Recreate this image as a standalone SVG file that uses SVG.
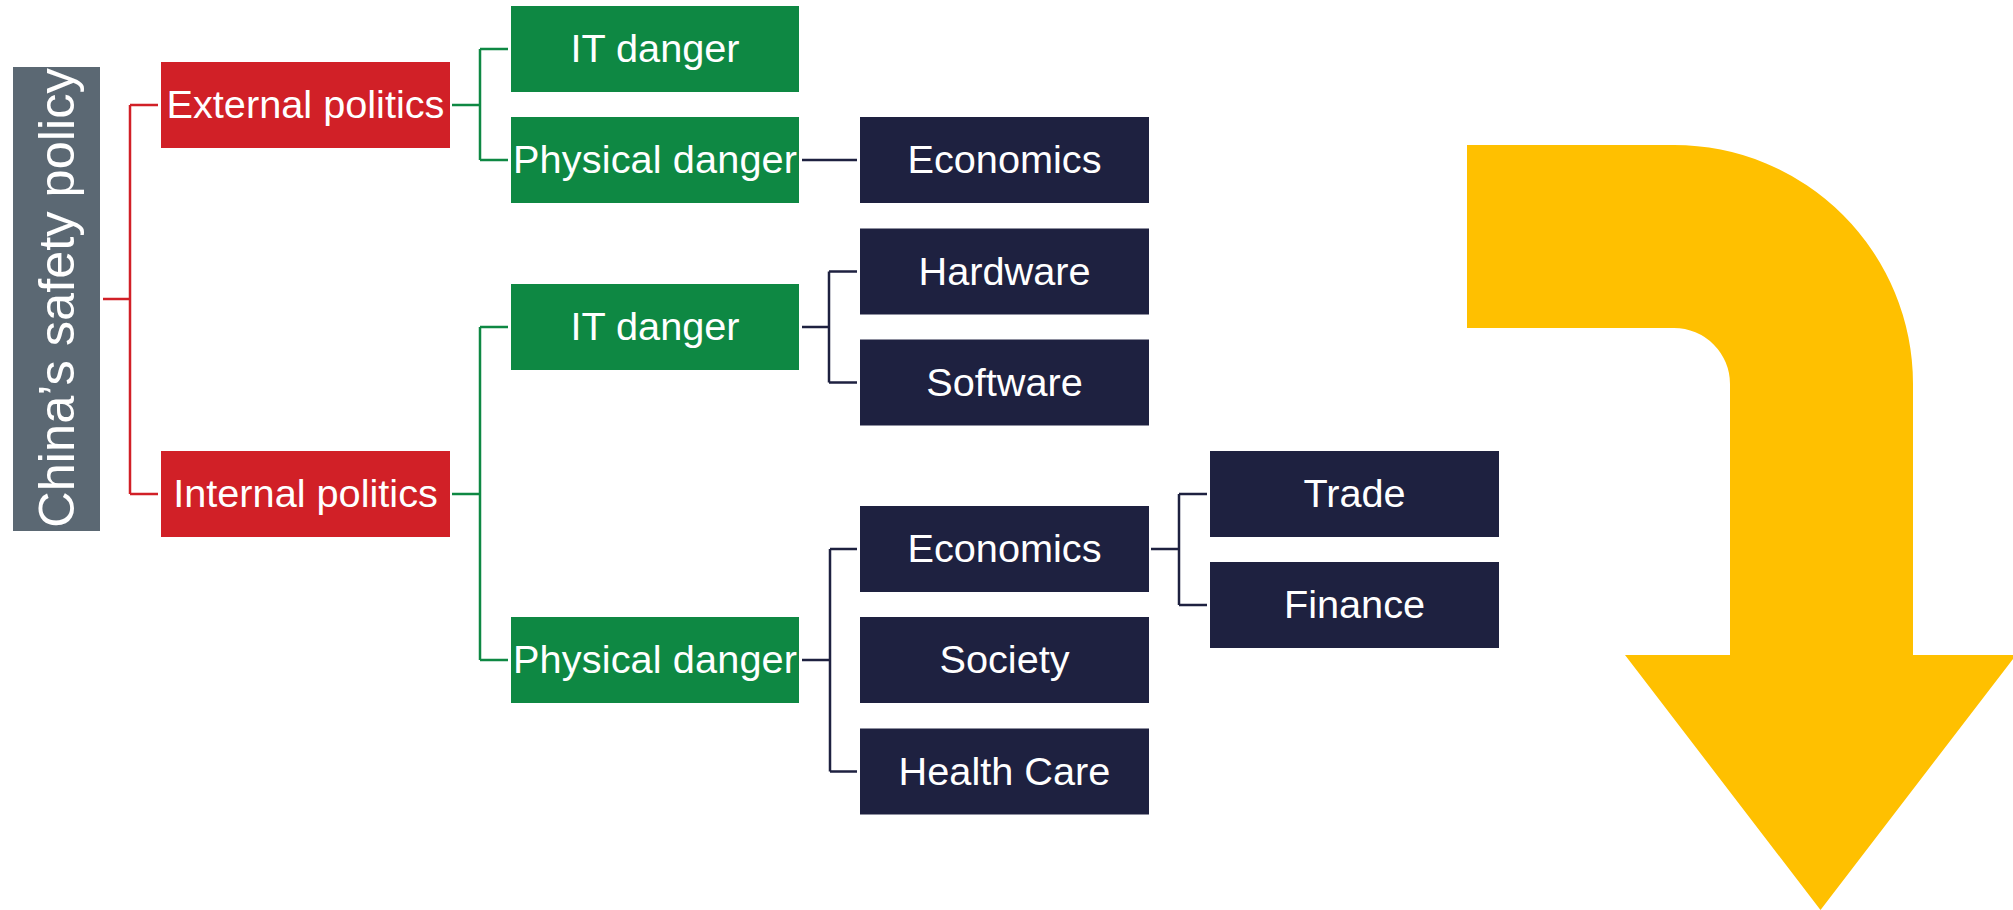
<svg xmlns="http://www.w3.org/2000/svg" width="2013" height="910" viewBox="0 0 2013 910">
<style>
.t{font-family:"Liberation Sans",Arial,sans-serif;font-size:39.7px;fill:#ffffff;text-anchor:middle}
.red{fill:#D12027}
.grn{fill:#0E8843}
.nav{fill:#1E2140}
.cr{stroke:#D12027;stroke-width:2.5;fill:none}
.cg{stroke:#0E8843;stroke-width:2.5;fill:none}
.cn{stroke:#1E2140;stroke-width:2.5;fill:none}
</style>
<rect width="2013" height="910" fill="#ffffff"/>
<g id="connectors">
<path class="cr" d="M103 299H130M130 105V494M130 105H158M130 494H158"/>
<path class="cg" d="M452 105H480M480 49V160M480 49H508M480 160H508"/>
<path class="cg" d="M452 494H480M480 327V660M480 327H508M480 660H508"/>
<path class="cn" d="M802 160H857"/>
<path class="cn" d="M802 327H829M829 271.5V382.5M829 271.5H857M829 382.5H857"/>
<path class="cn" d="M802 660H830M830 549V771.5M830 549H857M830 771.5H857"/>
<path class="cn" d="M1151 549H1179M1179 494V605M1179 494H1207M1179 605H1207"/>
</g>
<g id="n-china">
<rect x="13" y="67" width="87" height="464" fill="#5B6873"/>
<text class="t" style="font-size:50.5px" transform="translate(74 298) rotate(-90)">China’s safety policy</text>
</g>
<g id="n-external">
<rect class="red" x="161" y="62" width="289" height="86"/>
<text class="t" x="305.5" y="118">External politics</text>
</g>
<g id="n-internal">
<rect class="red" x="161" y="451" width="289" height="86"/>
<text class="t" x="305.5" y="507">Internal politics</text>
</g>
<g id="n-it1">
<rect class="grn" x="511" y="6" width="288" height="86"/>
<text class="t" x="655" y="62">IT danger</text>
</g>
<g id="n-phys1">
<rect class="grn" x="511" y="117" width="288" height="86"/>
<text class="t" x="655" y="173" textLength="284" lengthAdjust="spacing">Physical danger</text>
</g>
<g id="n-econ1">
<rect class="nav" x="860" y="117" width="289" height="86"/>
<text class="t" x="1004.5" y="173">Economics</text>
</g>
<g id="n-it2">
<rect class="grn" x="511" y="284" width="288" height="86"/>
<text class="t" x="655" y="340">IT danger</text>
</g>
<g id="n-hardware">
<rect class="nav" x="860" y="228.5" width="289" height="86"/>
<text class="t" x="1004.5" y="284.5">Hardware</text>
</g>
<g id="n-software">
<rect class="nav" x="860" y="339.5" width="289" height="86"/>
<text class="t" x="1004.5" y="395.5">Software</text>
</g>
<g id="n-phys2">
<rect class="grn" x="511" y="617" width="288" height="86"/>
<text class="t" x="655" y="673" textLength="284" lengthAdjust="spacing">Physical danger</text>
</g>
<g id="n-econ2">
<rect class="nav" x="860" y="506" width="289" height="86"/>
<text class="t" x="1004.5" y="562">Economics</text>
</g>
<g id="n-society">
<rect class="nav" x="860" y="617" width="289" height="86"/>
<text class="t" x="1004.5" y="673">Society</text>
</g>
<g id="n-health">
<rect class="nav" x="860" y="728.5" width="289" height="86"/>
<text class="t" x="1004.5" y="784.5">Health Care</text>
</g>
<g id="n-trade">
<rect class="nav" x="1210" y="451" width="289" height="86"/>
<text class="t" x="1354.5" y="507">Trade</text>
</g>
<g id="n-finance">
<rect class="nav" x="1210" y="562" width="289" height="86"/>
<text class="t" x="1354.5" y="618">Finance</text>
</g>
<g id="arrow">
<path fill="#FFC000" d="M1467 145H1674A239 239 0 0 1 1913 384V655H2016L1820.5 910L1625 655H1730V384A56 56 0 0 0 1674 328H1467Z"/>
</g>
</svg>
